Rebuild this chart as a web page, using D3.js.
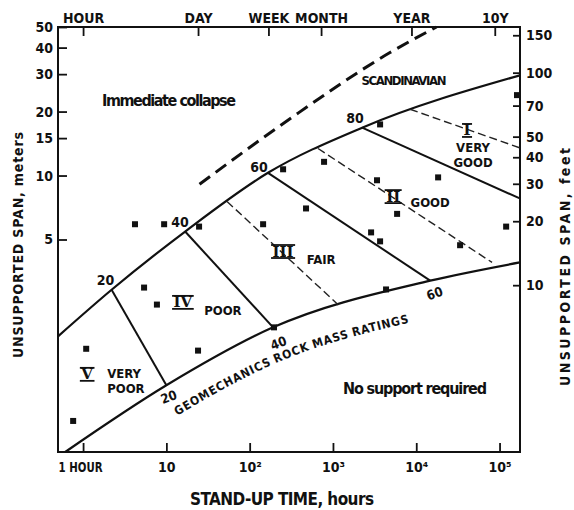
<!DOCTYPE html>
<html>
<head>
<meta charset="utf-8">
<script src="https://cdn.jsdelivr.net/npm/d3@7"></script>
<style>
  body { margin: 0; background: #fff; }
  text { font-family: "DejaVu Sans Condensed", "Liberation Sans Narrow", "DejaVu Sans", sans-serif; font-weight: bold; fill: #111; }
  .roman { font-family: "DejaVu Serif", "Liberation Serif", serif; }
</style>
</head>
<body>
<svg id="chart" width="574" height="510"></svg>
<script>
// stand-up time (hours) vs unsupported span (m)
const upperHours = [0.5, 2.2, 16.8, 166, 2240, 1.75e5];
const upperSpan  = [1.75, 2.9, 5.45, 10.3, 16.8, 29.6];
const lowerHours = [0.61, 10, 191, 14700, 1.75e5];
const lowerSpan  = [0.5, 1.03, 1.93, 3.2, 3.9];
const scandHours = [25, 305, 4840, 17500];
const scandSpan  = [9.1, 18.5, 37.9, 50];

// RMR class boundaries: [hours, span] at upper and lower ends
const rmrValues = [20, 40, 60, 80];
const rmrTop    = [[2.2, 2.9], [16.8, 5.45], [166, 10.3], [2240, 16.8]];
const rmrBottom = [[10, 1.03], [191, 1.93], [14700, 3.2], [1.75e5, 7.8]];
const rmrBottomLabelled = [true, true, true, false];

// dashed class mid lines
const midLines = [
  [[53.5, 7.55], [1216, 2.42]],
  [[662, 13.4], [81300, 3.9]],
  [[8430, 20.5], [1.75e5, 13.5]]
];

// case history points
const caseHours = [4.2, 9.4, 24.7, 145, 252, 5.4, 7.7, 1.09, 24, 0.76, 196, 3680, 782,
  3380, 18300, 475, 5890, 2870, 3680, 33600, 120000, 4340, 162000];
const caseSpan = [5.9, 5.9, 5.75, 5.9, 10.7, 2.97, 2.47, 1.53, 1.5, 0.70, 1.93, 17.4, 11.6,
  9.5, 9.8, 7.0, 6.6, 5.4, 4.9, 4.7, 5.75, 2.91, 23.9];

// rock mass classes
const classNumerals = ["I", "II", "III", "IV", "V"];
const classWords = [["VERY", "GOOD"], ["GOOD"], ["FAIR"], ["POOR"], ["VERY", "POOR"]];
const classHours = [40700, 5280, 252, 15.8, 1.12];
const classSpan  = [16.3, 7.96, 4.39, 2.53, 1.16];

// axes
const bottomTicks = [1, 10, 100, 1000, 10000, 100000];
const bottomLabels = ["1 HOUR", "10", "10²", "10³", "10⁴", "10⁵"];
const topTicks = [1, 24, 168, 720, 8760, 87600];
const topLabels = ["HOUR", "DAY", "WEEK", "MONTH", "YEAR", "10Y"];
const meterTicks = [50, 40, 30, 20, 15, 10, 5];
const feetTicks = [150, 100, 70, 50, 40, 30, 20, 10];
const FT_PER_M = 3.2808;

const W = 574, H = 510;
const m = { top: 27, right: 54, bottom: 58, left: 58 };
const svg = d3.select("#chart");

const x = d3.scaleLog().domain([0.5, 1.76e5]).range([m.left, W - m.right]);
const y = d3.scaleLog().domain([0.5, 50]).range([H - m.bottom, m.top]);
const yFt = d3.scaleLog().domain([0.5 * FT_PER_M, 50 * FT_PER_M]).range([H - m.bottom, m.top]);

const pts = (hs, ss) => hs.map((h, i) => [x(h), y(ss[i])]);
const curve = d3.line().curve(d3.curveMonotoneX);
const straight = d3.line();

// frame
svg.append("rect")
  .attr("x", m.left).attr("y", m.top)
  .attr("width", W - m.left - m.right).attr("height", H - m.top - m.bottom)
  .attr("fill", "none").attr("stroke", "#111").attr("stroke-width", 2);

// axes, ticks drawn inward
const ax = svg.append("g");
ax.append("g").attr("transform", `translate(0,${H - m.bottom})`)
  .call(d3.axisBottom(x).tickValues(bottomTicks).tickSize(-9).tickPadding(10).tickFormat((d, i) => bottomLabels[i]))
  .call(g => g.select(".domain").remove());
ax.append("g").attr("transform", `translate(0,${m.top})`)
  .call(d3.axisTop(x).tickValues(topTicks).tickSize(-9).tickPadding(4).tickFormat((d, i) => topLabels[i]))
  .call(g => g.select(".domain").remove());
ax.append("g").attr("transform", `translate(${m.left},0)`)
  .call(d3.axisLeft(y).tickValues(meterTicks).tickSize(-9).tickPadding(5).tickFormat(d3.format("d")))
  .call(g => g.select(".domain").remove());
ax.append("g").attr("transform", `translate(${W - m.right},0)`)
  .call(d3.axisRight(yFt).tickValues(feetTicks).tickSize(-7).tickPadding(6).tickFormat(d3.format("d")))
  .call(g => g.select(".domain").remove());
ax.selectAll(".tick line").attr("stroke", "#111").attr("stroke-width", 1.8);
ax.selectAll(".tick text").attr("font-size", 14).attr("fill", "#111")
  .attr("font-family", "DejaVu Sans Condensed, DejaVu Sans, sans-serif").attr("font-weight", "bold");
ax.selectAll(".tick text").each(function () {
  const t = d3.select(this);
  if (t.text() === "1 HOUR") t.attr("x", -25).attr("text-anchor", "start")
    .attr("textLength", 44).attr("lengthAdjust", "spacingAndGlyphs");
});

// boundary curves
svg.append("path").attr("d", curve(pts(upperHours, upperSpan)))
  .attr("fill", "none").attr("stroke", "#111").attr("stroke-width", 2.2);
const lowerPts = pts(lowerHours, lowerSpan);
svg.append("path").attr("d", curve(lowerPts))
  .attr("fill", "none").attr("stroke", "#111").attr("stroke-width", 2.2);
svg.append("path").attr("d", curve(pts(scandHours, scandSpan)))
  .attr("fill", "none").attr("stroke", "#111").attr("stroke-width", 3)
  .attr("stroke-dasharray", "13 7");

// RMR boundaries
rmrValues.forEach((v, i) => {
  const a = [x(rmrTop[i][0]), y(rmrTop[i][1])];
  const b = [x(rmrBottom[i][0]), y(rmrBottom[i][1])];
  svg.append("path").attr("d", straight([a, b]))
    .attr("fill", "none").attr("stroke", "#111").attr("stroke-width", 2);
});
const topOff = [[-6, -10], [-5, -10], [-9, -6], [-7, -10]];
const botOff = [[4, 11], [7, 15], [6, 12]];
rmrValues.forEach((v, i) => {
  svg.append("text").attr("x", x(rmrTop[i][0]) + topOff[i][0]).attr("y", y(rmrTop[i][1]) + topOff[i][1] + 5)
    .attr("text-anchor", "middle").attr("font-size", 14).text(v);
  if (rmrBottomLabelled[i]) {
    const px = x(rmrBottom[i][0]) + botOff[i][0], py = y(rmrBottom[i][1]) + botOff[i][1];
    svg.append("text").attr("transform", `translate(${px},${py + 5}) rotate(-20)`)
      .attr("text-anchor", "middle").attr("font-size", 13).text(v);
  }
});

// mid lines
midLines.forEach(l => {
  svg.append("path").attr("d", straight(l.map(p => [x(p[0]), y(p[1])])))
    .attr("fill", "none").attr("stroke", "#222").attr("stroke-width", 1.4)
    .attr("stroke-dasharray", "8 4");
});

// case history squares
svg.append("g").selectAll("rect")
  .data(caseHours.map((h, i) => [h, caseSpan[i]]))
  .join("rect")
  .attr("x", d => x(d[0]) - 3).attr("y", d => y(d[1]) - 3)
  .attr("width", 6).attr("height", 6).attr("fill", "#111");

// class labels
classNumerals.forEach((n, i) => {
  const cx = x(classHours[i]), cy = y(classSpan[i]);
  const t = svg.append("text").attr("class", "roman")
    .attr("x", cx).attr("y", cy + 5).attr("text-anchor", "middle")
    .attr("font-size", 15).text(n);
  const w = t.node().getComputedTextLength() + 3;
  [-6.5, 6.5].forEach(dy => svg.append("line")
    .attr("x1", cx - w / 2).attr("x2", cx + w / 2).attr("y1", cy + dy).attr("y2", cy + dy)
    .attr("stroke", "#111").attr("stroke-width", 1.8));
});
const wordPos = [[6, 17, "middle"], [37, 5, "middle"], [38, 7, "middle"], [40, 8, "middle"], [20, -1, "start"]];
classWords.forEach((ws, i) => {
  const cx = x(classHours[i]) + wordPos[i][0], cy = y(classSpan[i]) + wordPos[i][1];
  ws.forEach((w, j) => svg.append("text")
    .attr("x", cx).attr("y", cy + 5 + j * 15).attr("text-anchor", wordPos[i][2])
    .attr("font-size", 13).text(w));
});

// region texts
function label(txt, cx, by, size, len) {
  svg.append("text").attr("x", cx).attr("y", by).attr("text-anchor", "middle")
    .attr("font-size", size).attr("textLength", len).attr("lengthAdjust", "spacing").text(txt);
}
label("Immediate collapse", 169, 106, 16, 134);
label("SCANDINAVIAN", 404, 85, 13, 85);
label("No support required", 415, 394, 16, 144);

// curved caption under the lower boundary, one word per text so each follows the curve
svg.append("path").attr("id", "geoPath")
  .attr("d", curve(lowerPts.map(p => [p[0], p[1] + 37])))
  .attr("fill", "none");
const geoWords = ["GEOMECHANICS", "ROCK", "MASS", "RATINGS"];
const geoTexts = geoWords.map(w => {
  const tp = svg.append("text").attr("font-size", 12).attr("letter-spacing", 0.8)
    .append("textPath").attr("href", "#geoPath").text(w);
  return tp;
});
const widths = geoTexts.map(tp => tp.node().parentNode.getComputedTextLength());
const gap = (252 - d3.sum(widths)) / (geoWords.length - 1);
let off = 134;
geoTexts.forEach((tp, i) => { tp.attr("startOffset", off); off += widths[i] + gap; });

// axis titles
label("STAND-UP TIME, hours", 282, 505, 17, 184);
svg.append("text").attr("transform", "translate(23,245) rotate(-90)")
  .attr("text-anchor", "middle").attr("font-size", 14)
  .attr("textLength", 226).attr("lengthAdjust", "spacing").text("UNSUPPORTED SPAN, meters");
svg.append("text").attr("transform", "translate(570,267) rotate(-90)")
  .attr("text-anchor", "middle").attr("font-size", 14)
  .attr("textLength", 238).attr("lengthAdjust", "spacing").text("UNSUPPORTED SPAN, feet");
</script>
</body>
</html>
